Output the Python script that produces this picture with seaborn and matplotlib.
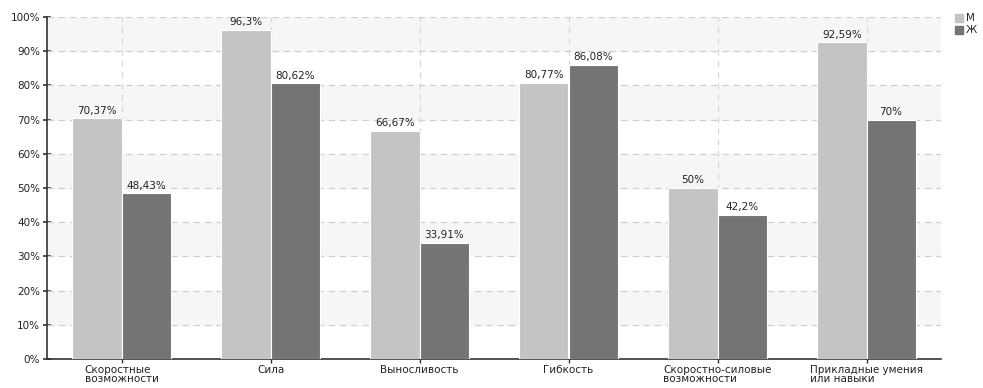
import pandas as pd
import numpy as np
import matplotlib
matplotlib.use('Agg')
import matplotlib.pyplot as plt
import seaborn as sns
from matplotlib.lines import Line2D

# Chart data
categories = ['Скоростные\nвозможности', 'Сила', 'Выносливость', 'Гибкость',
              'Скоростно-силовые\nвозможности', 'Прикладные умения\nили навыки']
male = [70.37, 96.3, 66.67, 80.77, 50, 92.59]
female = [48.43, 80.62, 33.91, 86.08, 42.2, 70]
series = ['М', 'Ж']
colors = ['#c4c4c4', '#747474']

df = pd.DataFrame({
    'cat': categories * 2,
    'val': male + female,
    'sex': [series[0]] * len(categories) + [series[1]] * len(categories),
})

sns.set_style('white')
plt.rcParams['font.family'] = ['DejaVu Sans']

fig = plt.figure(figsize=(9.83, 3.88), dpi=100)
ax = fig.add_axes([47 / 983, 29 / 388, 894 / 983, 342 / 388])

# Alternating background bands
for lo in range(10, 100, 20):
    ax.axhspan(lo, lo + 10, color='#f6f6f6', zorder=0)

sns.barplot(data=df, x='cat', y='val', hue='sex', palette=colors, width=0.66,
            edgecolor='white', linewidth=0.8, ax=ax, legend=False, zorder=3)

# Value labels
for cont in ax.containers:
    labels = [f"{v:g}".replace('.', ',') + '%' for v in cont.datavalues]
    ax.bar_label(cont, labels=labels, padding=2, fontsize=7.5, color='#222222')

ax.set_ylim(0, 100)
ax.set_xlim(-0.5, len(categories) - 0.5)
ax.set_yticks(np.arange(0, 101, 10))
ax.set_yticklabels([f'{t}%' for t in range(0, 101, 10)])
ax.set_xlabel('')
ax.set_ylabel('')

for y in range(10, 101, 10):
    ax.axhline(y, color='#cfcfcf', linestyle=(0, (5, 4)), linewidth=0.9, zorder=1)
for x in range(len(categories)):
    ax.axvline(x, color='#d8d8d8', linestyle=(0, (5, 4)), linewidth=0.9, zorder=1)

for side in ['top', 'right']:
    ax.spines[side].set_visible(False)
ax.spines['left'].set_color('#333333')
ax.spines['bottom'].set_color('#333333')
ax.spines['left'].set_linewidth(1.2)
ax.spines['bottom'].set_linewidth(1.2)

ax.tick_params(axis='y', direction='inout', length=6, width=1.2, labelsize=7.5,
               colors='#333333', labelcolor='#222222', pad=2, left=True)
ax.tick_params(axis='x', direction='inout', length=6, width=1.0, labelsize=7.5,
               colors='#333333', labelcolor='#222222', pad=1, bottom=True)
for lbl in ax.get_xticklabels():
    lbl.set_multialignment('left')
    lbl.set_linespacing(0.95)

handles = [Line2D([], [], marker='s', linestyle='', markersize=6,
                  markerfacecolor=c, markeredgecolor=c) for c in colors]
fig.legend(handles, series, loc='upper left', bbox_to_anchor=(950 / 983, 1 - 8 / 388),
           frameon=False, fontsize=7.5, handletextpad=0.2, labelspacing=0.2,
           handlelength=0.8, borderpad=0)

fig.savefig('out.png', dpi=100)
